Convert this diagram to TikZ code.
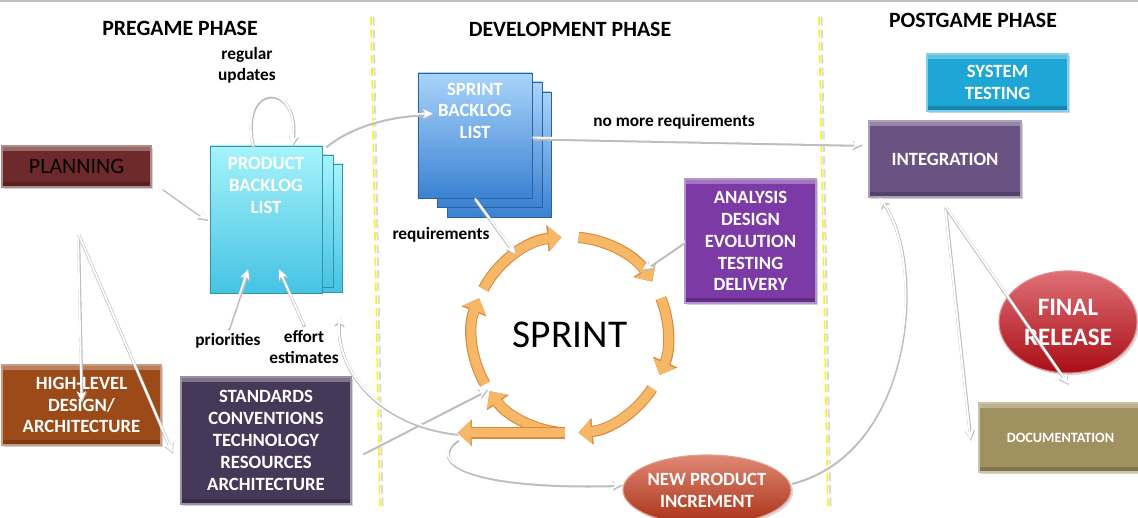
\documentclass[tikz,border=0pt]{standalone}
\usepackage{fontspec}
\setmainfont{Carlito}
\usetikzlibrary{arrows.meta,shapes.geometric,shadows}

\definecolor{planred}{HTML}{6E2A2A}
\definecolor{hldbrown}{HTML}{9C4A18}
\definecolor{stdpurple}{HTML}{463858}
\definecolor{anapurple}{HTML}{7B3AA6}
\definecolor{sysblue}{HTML}{1EA6D6}
\definecolor{intpurple}{HTML}{6A5282}
\definecolor{docolive}{HTML}{9F9260}
\definecolor{finalred}{HTML}{C8101A}
\definecolor{npired}{HTML}{C83818}
\definecolor{pbltop}{HTML}{A6F3FB}
\definecolor{pblbot}{HTML}{45C3E3}
\definecolor{sbltop}{HTML}{A9D4FA}
\definecolor{sblbot}{HTML}{3B82D2}
\definecolor{cycfill}{HTML}{F6B767}
\definecolor{cycedge}{HTML}{D9893A}

\newcommand\phasefont{\fontsize{15.5}{18}\selectfont\bfseries}
\newcommand\bxfont{\fontsize{13.3}{15.6}\selectfont\bfseries}
\newcommand\lblfont{\fontsize{12.3}{15}\selectfont\bfseries}

\tikzset{
  phasebox/.style={rectangle, fill=#1, draw=#1!55!white, line width=0.8pt,
    text=white, font=\bxfont, align=center, inner sep=1pt,
    drop shadow={opacity=0.35, shadow xshift=1.5pt, shadow yshift=-1.5pt},
    path picture={
      \fill[white, opacity=0.3] (path picture bounding box.north west) rectangle ([yshift=-3.5pt]path picture bounding box.north east);
      \fill[black, opacity=0.2] (path picture bounding box.south west) rectangle ([yshift=3.5pt]path picture bounding box.south east);}},
  blob/.style={ellipse, top color=#1!60!white, middle color=#1, bottom color=#1!85!black,
    draw=#1!50!white, line width=0.8pt, text=white, align=center, inner sep=0pt,
    drop shadow={opacity=0.3, shadow xshift=1.5pt, shadow yshift=-1.5pt}},
  sheet/.style 2 args={top color=#1, bottom color=#2, draw=#2!75!black, line width=0.5pt},
  pagetxt/.style={text=white, font=\bxfont, align=center, inner sep=1pt},
  lbl/.style={font=\lblfont, align=center, text=black},
  divider/.style={draw=yellow, line width=1.1pt, dash pattern=on 6pt off 3pt},
  divshade/.style={draw=black!15, line width=1.4pt, dash pattern=on 6pt off 3pt},
  flow/.style={draw=white, line width=1.3pt, -{Stealth[length=7pt,width=6.5pt,line width=0.3pt]},
    preaction={draw=black!26, line width=2.2pt, transform canvas={xshift=0.4pt, yshift=-1pt},
      -{Stealth[length=7.5pt,width=7.5pt,line width=0.3pt]}}},
  cyc/.style={draw=cycfill, line width=6.5pt, -{Triangle[length=9pt,width=17pt,line width=0.4pt]},
    preaction={draw=cycedge, line width=8pt, -{Triangle[length=10pt,width=19pt,line width=0.4pt]}}}
}

\begin{document}
\begin{tikzpicture}[x=0.025cm, y=0.025cm]
\useasboundingbox (0,0) rectangle (1138,518);
\draw[black!25, line width=0.8pt] (0,517) -- (1138,517);

% phase dividers
\foreach \xa/\xb in {371/380, 819/828} {
  \draw[divshade] (\xa+2.5,501) -- (\xb+2.5,8);
  \draw[divider] (\xa,501) -- (\xb,8);
}

\node[font=\phasefont] (pregame) at (180,490) {PREGAME PHASE};
\node[font=\phasefont] (devel) at (570,489) {DEVELOPMENT PHASE};
\node[font=\phasefont] (postgame) at (973,498) {POSTGAME PHASE};

% pregame
\node[phasebox=planred, text=black, font=\fontsize{15.6}{18}\selectfont, minimum width=3.725cm, minimum height=1.025cm] (planning) at (76.5,351.5) {PLANNING};
\node[phasebox=hldbrown, minimum width=3.975cm, minimum height=2cm] (hld) at (81.5,113) {HIGH-LEVEL\\DESIGN/\\ARCHITECTURE};
\node[phasebox=stdpurple, minimum width=4.25cm, minimum height=3.175cm] (std) at (266,77.5) {STANDARDS\\CONVENTIONS\\TECHNOLOGY\\RESOURCES\\ARCHITECTURE};

\draw[sheet={pbltop}{pblbot}] (230,354) rectangle (342,226);
\draw[sheet={pbltop}{pblbot}] (220,363) rectangle (333,231);
\node[sheet={pbltop}{pblbot}, minimum width=2.8cm, minimum height=3.675cm,
  label={[pagetxt, anchor=north, yshift=-7pt]north:{PRODUCT\\BACKLOG\\LIST}}] (pbl) at (266,298.5) {};

\node[lbl] (updates) at (247,453) {regular\\updates};
\node[lbl] (prio) at (228,177) {priorities};
\node[lbl] (effort) at (304,171) {effort\\estimates};

% development
\draw[sheet={sbltop}{sblbot}] (447,426) rectangle (551,301);
\draw[sheet={sbltop}{sblbot}] (437,436) rectangle (542,311);
\node[sheet={sbltop}{sblbot}, minimum width=2.85cm, minimum height=3.125cm,
  label={[pagetxt, anchor=north, yshift=-6pt]north:{SPRINT\\BACKLOG\\LIST}}] (sbl) at (475,382.5) {};

\node[lbl] (req) at (441,283) {requirements};
\node[lbl] (nomore) at (674,396) {no more requirements};
\node[phasebox=anapurple, minimum width=3.275cm, minimum height=3.1cm] (ana) at (750.5,277) {ANALYSIS\\DESIGN\\EVOLUTION\\TESTING\\DELIVERY};

\node[circle, minimum size=4.9cm, inner sep=0pt, outer sep=0pt, font=\fontsize{28}{30}\selectfont] (sprint) at (570,183) {SPRINT};
\foreach \a/\b in {152/95, 85/33, 22/-24, 327/275, 263/215, 210/158}
  \draw[cyc] (sprint.\a) arc[start angle=\a, end angle=\b, radius=2.45cm];
\draw[cyc] (sprint.267) -- ++(-107,0) coordinate (loopend);

\node[blob=npired, font=\bxfont, minimum width=4cm, minimum height=1.75cm] (npi) at (707,28) {NEW PRODUCT\\INCREMENT};

% postgame
\node[phasebox=sysblue, minimum width=3.525cm, minimum height=1.425cm] (systest) at (997.5,435.5) {SYSTEM\\TESTING};
\node[phasebox=intpurple, minimum width=3.8cm, minimum height=1.9cm] (integ) at (945,359) {INTEGRATION};
\node[blob=finalred, font=\fontsize{17.8}{21.3}\selectfont\bfseries, minimum width=3.45cm, minimum height=2.55cm] (final) at (1068,196) {FINAL\\RELEASE};
\node[phasebox=docolive, font=\fontsize{10.1}{12}\selectfont\bfseries, minimum width=4.075cm, minimum height=1.725cm] (doc) at (1060.5,80.5) {DOCUMENTATION};

% connectors
\coordinate (split) at (78,285);
\draw[flow] ([xshift=-0.325cm]pbl.north) .. controls (238,438) and (300,438) .. ([xshift=0.65cm]pbl.north);
\draw[flow] ([xshift=0.275cm]planning.south east) -- ([xshift=-0.05cm]pbl.west);
\draw[flow] (split) -- ([yshift=0.1cm]hld.center);
\draw[flow] (split) -- ([xshift=-0.2cm,yshift=-0.3cm]std.west);
\draw[flow] (prio.north) -- ([xshift=-0.45cm,yshift=0.6cm]pbl.south);
\draw[flow] (effort.north) -- ([xshift=0.325cm,yshift=0.6cm]pbl.south);
\draw[flow] ([xshift=0.075cm]pbl.north east) .. controls (350,393) and (390,404) .. ([xshift=0.375cm,yshift=0.55cm]sbl.west);
\draw[flow] ([yshift=-0.05cm]sbl.east) -- ([xshift=-0.15cm,yshift=0.375cm]integ.west);
\draw[flow] (sbl.south) -- (sprint.124);
\draw[flow] (ana.west) -- (sprint.42);
\draw[flow] ([xshift=0.275cm,yshift=-0.3cm]std.east) -- (sprint.213);
\draw[flow] (loopend) .. controls (380,93) and (335,148) .. ([xshift=-0.1cm,yshift=0.25cm]effort.north east);
\draw[flow] ([yshift=-0.15cm]loopend) .. controls (425,56) and (470,30) .. ([yshift=0.15cm]npi.west);
\draw[flow] ([yshift=0.2cm]npi.east) .. controls (915,68) and (925,258) .. ([xshift=0.275cm]integ.south west);
\draw[flow] ([yshift=-0.2cm]integ.south) -- ([xshift=-0.2cm,yshift=-0.05cm]doc.west);
\draw[flow] ([yshift=-0.2cm]integ.south) -- ([yshift=-0.25cm]final.south);

\end{tikzpicture}
\end{document}
